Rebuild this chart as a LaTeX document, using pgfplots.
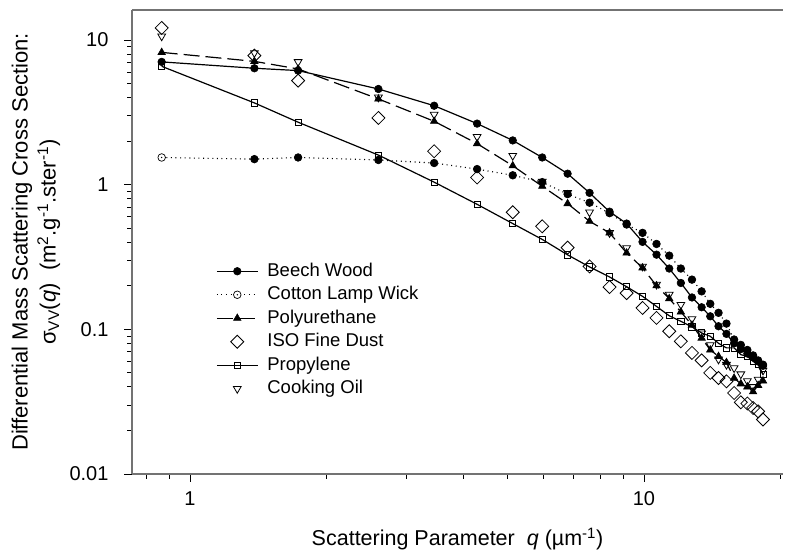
\documentclass[border=0pt]{standalone}
\usepackage{fontspec}
\setmainfont{Liberation Sans}
\usepackage{pgfplots}
\pgfplotsset{compat=1.18}
\pgfdeclareplotmark{cdot}{%
  \pgfpathcircle{\pgfpointorigin}{\pgfplotmarksize}\pgfusepathqfillstroke
  \pgfpathcircle{\pgfpointorigin}{0.75pt}\pgfsetfillcolor{black}\pgfusepathqfill}

\pgfplotstableread{
q      beech  cotton poly   iso    prop   oil
0.866  7.05   1.54   8.2    12.1   6.57   10.6
1.386  6.37   1.50   7.11   7.79   3.67   8.13
1.73   6.14   1.54   6.3    5.23   2.70   7.05
2.6    4.58   1.48   3.91   2.89   1.60   4.01
3.45   3.51   1.41   2.74   1.70   1.04   3.05
4.29   2.64   1.28   1.92   1.12   0.731  2.14
5.14   2.02   1.16   1.35   0.644  0.538  1.585
5.97   1.54   1.04   0.974  0.515  0.418  1.05
6.79   1.19   0.86   0.739  0.367  0.327  0.877
7.59   0.877  0.75   0.558  0.272  0.270  0.644
8.4    0.65   0.635  0.464  0.196  0.230  0.464
9.16   0.538  0.53   0.337  0.178  0.197  0.365
9.93   0.402  0.464  0.266  0.1405 0.169  0.272
10.66  0.328  0.389  0.200  0.120  0.144  0.204
11.37  0.263  0.323  0.163  0.0969 0.124  0.174
12.06  0.209  0.263  0.132  0.0826 0.1136 0.148
12.76  0.166  0.2205 0.107  0.0687 0.104  0.118
13.4   0.142  0.183  0.087  0.061  0.0944 0.094
14.0   0.123  0.150  0.072  0.050  0.0895 0.078
14.6   0.105  0.130  0.065  0.0461 0.080  0.062
15.2   0.093  0.1095 0.059  0.0437 0.0744 0.057
15.8   0.080  0.085  0.046  0.0363 0.0744 0.054
16.35  0.073  0.078  0.042  0.0313 0.0668 0.049
16.9   0.068  0.072  0.040  0.0307 0.065  0.044
17.4   0.064  0.066  0.037  0.0286 0.060  0.040
17.85  0.061  0.060  0.041  0.0271 0.057  0.045
18.3   0.057  0.056  0.044  0.0238 0.049  0.052
}\datatable

\begin{document}
\begin{tikzpicture}[x=1pt,y=1pt]
\path[use as bounding box] (-132,-82) rectangle (654,474);
\begin{axis}[
  at={(0,0)}, anchor=south west, scale only axis,
  width=651pt, height=464pt,
  xmode=log, ymode=log,
  xmin=0.745, xmax=20.25, ymin=0.01, ymax=16.1,
  axis x line*=box, axis y line*=left,
  xtick pos=left, ytick pos=left,
  axis line style={black!55, line width=1.5pt},
  tick align=outside,
  major tick length=8pt, minor tick length=5pt,
  tick style={black, line width=0.8pt},
  xtick={1,10}, xticklabels={1,10},
  ytick={0.01,0.1,1,10}, yticklabels={0.01,0.1,1,10},
  minor xtick={0.8,0.9,2,3,4,5,6,7,8,9,20},
  minor ytick={0.02,0.03,0.04,0.05,0.06,0.07,0.08,0.09,0.2,0.3,0.4,0.5,0.6,0.7,0.8,0.9,2,3,4,5,6,7,8,9},
  /pgf/number format/assume math mode=true,
  tick label style={font=\fontsize{20}{22}\selectfont},
  xticklabel style={yshift=-6pt},
  yticklabel style={xshift=-12pt},
  xlabel={Scattering Parameter\ \ \textit{q} (µm\textsuperscript{-1})},
  ylabel={Differential Mass Scattering Cross Section:\\σ\textsubscript{VV}(\textit{q})\ \ (m\textsuperscript{2}.g\textsuperscript{-1}.ster\textsuperscript{-1})},
  every axis x label/.style={at={(axis description cs:0.5,-0.14)}, anchor=center, font=\fontsize{21.5}{24}\selectfont},
  every axis y label/.style={at={(axis description cs:-0.1475,0.5)}, anchor=center, rotate=90, align=center, font=\fontsize{22}{28}\selectfont},
  legend style={at={(0.129,0.4627)}, anchor=north west, draw=none, fill=none,
    inner sep=0pt, column sep=6pt,
    font=\fontsize{18.5}{20}\selectfont,
    nodes={inner xsep=3pt, inner ysep=3.3pt, text height=13.3pt, text depth=3.6pt}},
  legend cell align=left,
  legend image code/.code={\draw[mark repeat=2,mark phase=2,#1] plot coordinates {(0pt,0pt) (20.5pt,0pt) (41pt,0pt)};},
]
\addplot[black, line width=1.2pt, mark=*, mark size=3.8pt, mark options={solid, line width=0.6pt}] table[x=q,y=beech] {\datatable};
\addlegendentry{Beech Wood}
\addplot[black, line width=1.1pt, dash pattern=on 1pt off 3.6pt, mark=cdot, mark size=3.8pt, mark options={solid, line width=0.7pt, fill=white}] table[x=q,y=cotton] {\datatable};
\addlegendentry{Cotton Lamp Wick}
\addplot[black, line width=1.2pt, dash pattern=on 16pt off 6pt, mark=triangle*, mark size=4.3pt, mark options={solid, line width=0.6pt}] table[x=q,y=poly] {\datatable};
\addlegendentry{Polyurethane}
\addplot[black, only marks, mark=square, mark size=4.6pt, mark options={rotate=45, line width=0.8pt, fill=white}] table[x=q,y=iso] {\datatable};
\addlegendentry{ISO Fine Dust}
\addplot[black, line width=1.2pt, mark=square, mark size=3.1pt, mark options={solid, line width=0.8pt, fill=white}] table[x=q,y=prop] {\datatable};
\addlegendentry{Propylene}
\addplot[black, only marks, mark=triangle, mark size=4.5pt, mark options={rotate=180, line width=0.8pt, fill=white}] table[x=q,y=oil] {\datatable};
\addlegendentry{Cooking Oil}
\end{axis}
\end{tikzpicture}
\end{document}
